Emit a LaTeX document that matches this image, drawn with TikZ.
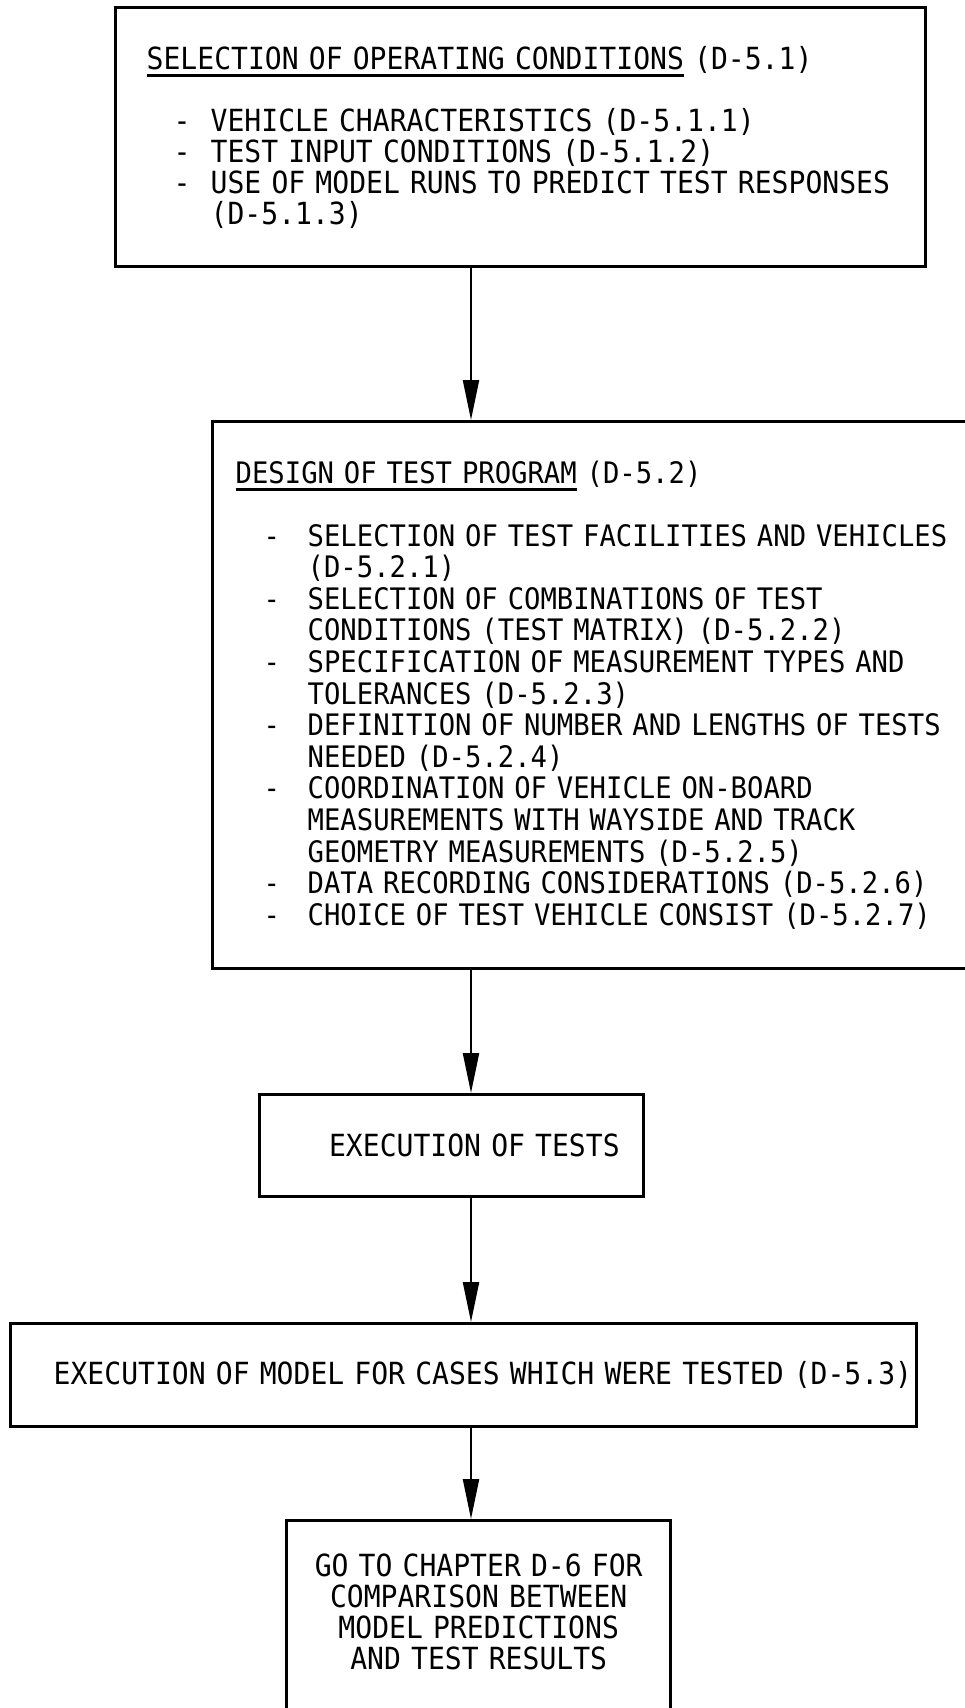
\documentclass[tikz,border=0pt]{standalone}
\usepackage{fontspec}
\newfontfamily\typew[FakeStretch=0.92]{DejaVu Sans Mono}
\usepackage{tikz}
\usetikzlibrary{arrows.meta,positioning}

\newsavebox\ulbox
\newcommand{\undl}[1]{\sbox\ulbox{#1}\rlap{\rule[-7.5pt]{\wd\ulbox}{3pt}}\usebox\ulbox}
\newcommand{\fixspace}[1]{\fontdimen2\font=#1 \fontdimen3\font=0pt \fontdimen4\font=0pt \spaceskip=#1\relax}
\newcommand{\boxfont}{\typew\fontsize{30.5}{31}\selectfont\fixspace{15.8pt}}
\newcommand{\boxfontwide}{\typew\fontsize{29.6}{31.6}\selectfont\fixspace{15.3pt}}
\newcommand{\itemA}{\hspace*{38pt}\makebox[37pt][l]{-}}
\newcommand{\contA}{\hspace*{75pt}}
\newcommand{\itemB}{\hspace*{28pt}\makebox[44pt][l]{-}}
\newcommand{\contB}{\hspace*{72pt}}

\begin{document}
\begin{tikzpicture}[
    x=1pt, y=-1pt,
    box/.style={draw, line width=3.4pt, anchor=north west, inner ysep=0pt,
                font=\boxfont},
    arr/.style={-{Triangle[length=40pt,width=16pt]}, line width=2.2pt}
]
    \useasboundingbox (0,0) rectangle (965,1708);
    \coordinate (ax) at (471,0);

    % Operating conditions
    \node[box, inner xsep=20pt, text width=770pt, minimum height=259pt, align=left] (opcond) at (114,6)
        {\hspace*{11pt}\undl{SELECTION OF OPERATING CONDITIONS} (D-5.1)\\[31pt]
         \itemA VEHICLE CHARACTERISTICS (D-5.1.1)\\
         \itemA TEST INPUT CONDITIONS (D-5.1.2)\\
         \itemA USE OF MODEL RUNS TO PREDICT TEST RESPONSES\\
         \contA (D-5.1.3)};

    % Test program (runs off the right edge)
    \node[box, inner xsep=23pt, text width=754pt, minimum height=547pt, align=left,
          font=\boxfontwide] (testprog) at (211,420)
        {\undl{DESIGN OF TEST PROGRAM} (D-5.2)\\[31pt]
         \itemB SELECTION OF TEST FACILITIES AND VEHICLES\\
         \contB (D-5.2.1)\\
         \itemB SELECTION OF COMBINATIONS OF TEST\\
         \contB CONDITIONS (TEST MATRIX) (D-5.2.2)\\
         \itemB SPECIFICATION OF MEASUREMENT TYPES AND\\
         \contB TOLERANCES (D-5.2.3)\\
         \itemB DEFINITION OF NUMBER AND LENGTHS OF TESTS\\
         \contB NEEDED (D-5.2.4)\\
         \itemB COORDINATION OF VEHICLE ON-BOARD\\
         \contB MEASUREMENTS WITH WAYSIDE AND TRACK\\
         \contB GEOMETRY MEASUREMENTS (D-5.2.5)\\
         \itemB DATA RECORDING CONSIDERATIONS (D-5.2.6)\\
         \itemB CHOICE OF TEST VEHICLE CONSIST (D-5.2.7)};

    % Execution
    \node[box, inner xsep=24pt, text width=336pt, minimum height=102pt, align=right] (tests) at (258,1093)
        {EXECUTION OF TESTS};
    \node[box, inner xsep=0pt, text width=906pt, minimum height=103pt, align=left] (modelrun) at (9,1322)
        {\hspace*{43pt}EXECUTION OF MODEL FOR CASES WHICH WERE TESTED (D-5.3)};

    % Chapter D-6 (runs off the bottom edge)
    \node[box, inner xsep=0pt, inner ysep=33pt, text width=384pt, text depth=200pt, align=center] (chapter) at (285,1519)
        {GO TO CHAPTER D-6 FOR\\COMPARISON BETWEEN\\MODEL PREDICTIONS\\AND TEST RESULTS};

    % Arrows
    \draw[arr] (opcond.south -| ax) -- (testprog.north -| ax);
    \draw[arr] (testprog.south -| ax) -- (tests.north -| ax);
    \draw[arr] (tests.south -| ax) -- (modelrun.north -| ax);
    \draw[arr] (modelrun.south -| ax) -- (chapter.north -| ax);
\end{tikzpicture}
\end{document}
